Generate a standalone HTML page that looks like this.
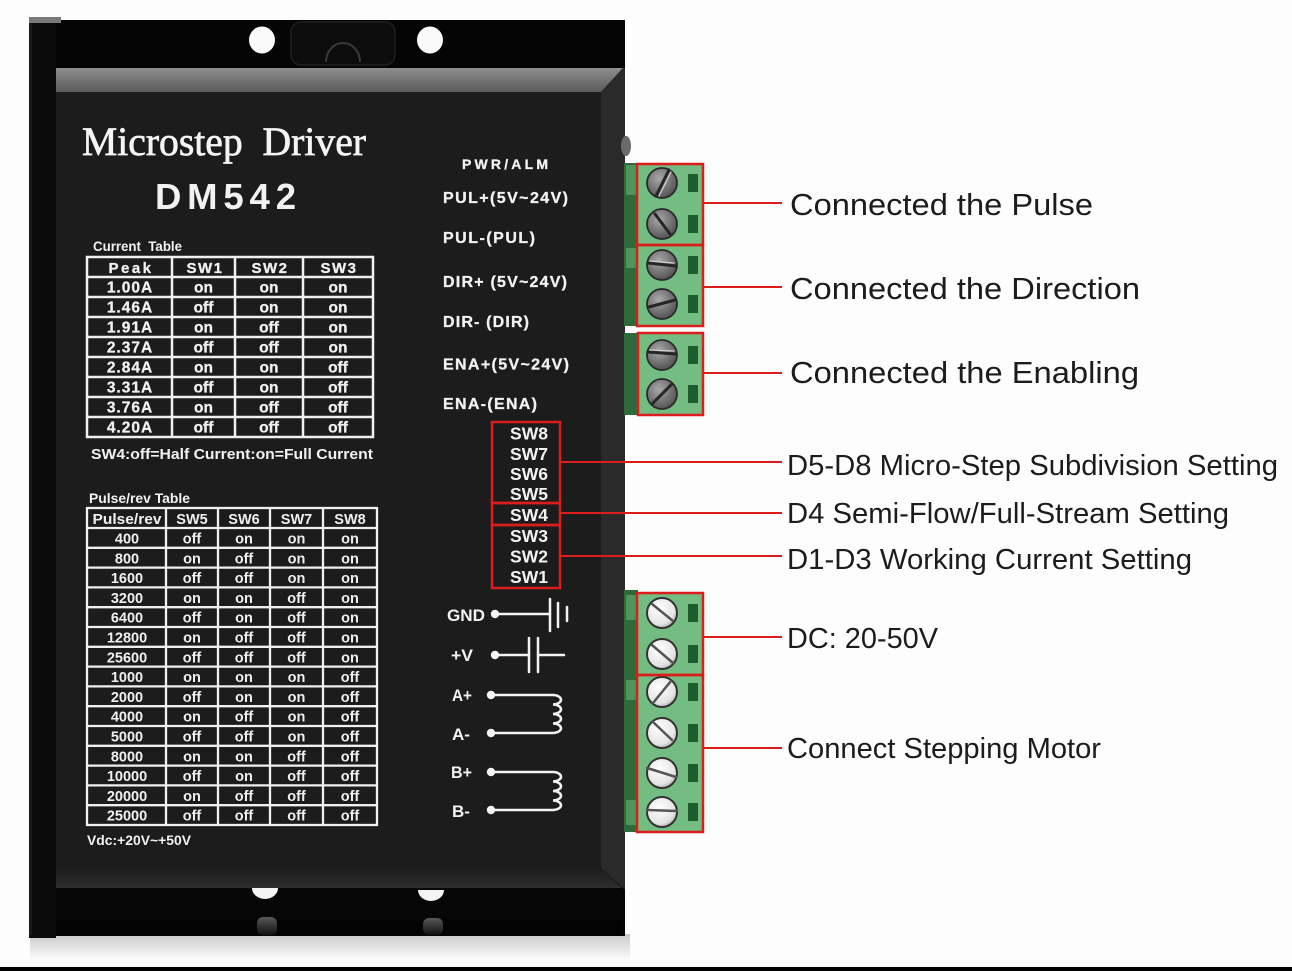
<!DOCTYPE html>
<html><head><meta charset="utf-8">
<style>
html,body{margin:0;padding:0;background:#fdfdfd;}
svg{display:block;}
.pl{font-family:"Liberation Sans",Arial,sans-serif;font-weight:bold;fill:#f2f2f2;}
.tb{font-family:"Liberation Sans",Arial,sans-serif;font-weight:bold;fill:#f0f0f0;text-anchor:middle;}
.lab{font-family:"Liberation Sans",Arial,sans-serif;fill:#1c1c1c;}
</style></head><body>
<svg width="1292" height="971" viewBox="0 0 1292 971" xmlns="http://www.w3.org/2000/svg">
<defs>
 <linearGradient id="bevTop" x1="0" y1="0" x2="0" y2="1">
  <stop offset="0" stop-color="#8e8e8e"/><stop offset="1" stop-color="#5a5a5a"/>
 </linearGradient>
 <linearGradient id="bevBot" x1="0" y1="0" x2="0" y2="1">
  <stop offset="0" stop-color="#1c1c1c"/><stop offset="1" stop-color="#2e2e2e"/>
 </linearGradient>
 <linearGradient id="shadow" x1="0" y1="0" x2="0" y2="1">
  <stop offset="0" stop-color="#c9c9c9"/><stop offset="1" stop-color="#fdfdfd"/>
 </linearGradient>
 <linearGradient id="refl" x1="0" y1="0" x2="0" y2="1">
  <stop offset="0" stop-color="#bdbdbd"/><stop offset="1" stop-color="#222"/>
 </linearGradient>
 <radialGradient id="sd" cx="0.4" cy="0.35" r="0.75">
  <stop offset="0" stop-color="#a9a9a9"/><stop offset="1" stop-color="#474747"/>
 </radialGradient>
 <radialGradient id="sl" cx="0.4" cy="0.35" r="0.75">
  <stop offset="0" stop-color="#ffffff"/><stop offset="0.7" stop-color="#e4e4e4"/><stop offset="1" stop-color="#9a9a9a"/>
 </radialGradient>
</defs>

<rect x="0" y="0" width="1292" height="971" fill="#fdfdfd"/>
<rect x="30" y="934" width="600" height="26" fill="url(#shadow)"/>
<rect x="0" y="967" width="1292" height="4" fill="#000"/>

<!-- body -->
<rect x="50" y="20" width="575" height="916" fill="#050505"/>
<rect x="291" y="22" width="104" height="43" rx="10" fill="#0c0c0c" stroke="#1e1e1e" stroke-width="1.5"/>
<path d="M326,62 A17,19 0 0 1 360,62" fill="none" stroke="#3a3a3a" stroke-width="2"/>
<ellipse cx="262" cy="40" rx="13" ry="13.5" fill="#fafafa"/>
<path d="M253,30 A13,13.5 0 0 0 253,50 A10,12 0 0 1 253,30 Z" fill="#222"/>
<ellipse cx="430" cy="40" rx="13" ry="13.5" fill="#fafafa"/>
<path d="M421,30 A13,13.5 0 0 0 421,50 A10,12 0 0 1 421,30 Z" fill="#333"/>

<polygon points="55,68 623,68 601,92 55,92" fill="url(#bevTop)"/>
<rect x="55" y="92" width="547" height="776" fill="#1c1c1c"/>
<polygon points="601,92 623,68 625,68 625,890 601,868" fill="#2a2a2a"/>
<polygon points="55,868 601,868 623,889 55,889" fill="url(#bevBot)"/>
<rect x="55" y="888" width="568" height="32" fill="#060606"/>
<rect x="55" y="920" width="567" height="15" fill="#030303"/>
<path d="M252,888 H278 A13,11 0 0 1 252,888 Z" fill="#f4f4f4"/>
<path d="M418,890 H444 A13,11 0 0 1 418,890 Z" fill="#f4f4f4"/>
<rect x="257" y="917" width="20" height="18" rx="6" fill="url(#refl)" opacity="0.45"/>
<rect x="423" y="918" width="20" height="17" rx="6" fill="url(#refl)" opacity="0.45"/>
<ellipse cx="626" cy="146" rx="5" ry="10" fill="#6a6a6a"/>

<rect x="29" y="17" width="27" height="921" fill="#0b0b0b"/>
<rect x="29" y="17" width="32" height="6" fill="#7a7a7a"/>
<rect x="29" y="23" width="3" height="912" fill="#1a1a1a"/>

<!-- title -->
<text x="82" y="155" font-family="'Liberation Serif','Times New Roman',serif" font-size="40" fill="#f4f4f4" stroke="#f4f4f4" stroke-width="0.7" textLength="284" lengthAdjust="spacingAndGlyphs">Microstep&#160; Driver</text>
<text x="155" y="209" class="pl" font-size="36.5" textLength="141" lengthAdjust="spacing" fill="#f6f6f6">DM542</text>

<!-- current table -->
<text x="93" y="251" class="pl" font-size="14" textLength="89" lengthAdjust="spacingAndGlyphs">Current&#160; Table</text>
<g stroke="#f0f0f0" stroke-width="2.5" fill="none">
 <rect x="87" y="257" width="286" height="180"/>
 <line x1="172" y1="257" x2="172" y2="437"/>
 <line x1="235" y1="257" x2="235" y2="437"/>
 <line x1="303" y1="257" x2="303" y2="437"/>
 <line x1="87" y1="277" x2="373" y2="277"/>
 <line x1="87" y1="297" x2="373" y2="297"/>
 <line x1="87" y1="317" x2="373" y2="317"/>
 <line x1="87" y1="337" x2="373" y2="337"/>
 <line x1="87" y1="357" x2="373" y2="357"/>
 <line x1="87" y1="377" x2="373" y2="377"/>
 <line x1="87" y1="397" x2="373" y2="397"/>
 <line x1="87" y1="417" x2="373" y2="417"/>
</g>
<g class="tb" font-size="15" stroke="#f0f0f0" stroke-width="0.3">
 <text x="131" y="273" letter-spacing="2.5">Peak</text>
 <text x="205" y="273" letter-spacing="1.5">SW1</text>
 <text x="270" y="273" letter-spacing="1.5">SW2</text>
 <text x="339" y="273" letter-spacing="1.5">SW3</text>
</g>
<g class="tb" font-size="15.5" stroke="#f0f0f0" stroke-width="0.3">
 <text x="130" y="292.5" letter-spacing="1">1.00A</text><text x="203.5" y="292.5">on</text><text x="269" y="292.5">on</text><text x="338" y="292.5">on</text>
 <text x="130" y="312.5" letter-spacing="1">1.46A</text><text x="203.5" y="312.5">off</text><text x="269" y="312.5">on</text><text x="338" y="312.5">on</text>
 <text x="130" y="332.5" letter-spacing="1">1.91A</text><text x="203.5" y="332.5">on</text><text x="269" y="332.5">off</text><text x="338" y="332.5">on</text>
 <text x="130" y="352.5" letter-spacing="1">2.37A</text><text x="203.5" y="352.5">off</text><text x="269" y="352.5">off</text><text x="338" y="352.5">on</text>
 <text x="130" y="372.5" letter-spacing="1">2.84A</text><text x="203.5" y="372.5">on</text><text x="269" y="372.5">on</text><text x="338" y="372.5">off</text>
 <text x="130" y="392.5" letter-spacing="1">3.31A</text><text x="203.5" y="392.5">off</text><text x="269" y="392.5">on</text><text x="338" y="392.5">off</text>
 <text x="130" y="412.5" letter-spacing="1">3.76A</text><text x="203.5" y="412.5">on</text><text x="269" y="412.5">off</text><text x="338" y="412.5">off</text>
 <text x="130" y="432.5" letter-spacing="1">4.20A</text><text x="203.5" y="432.5">off</text><text x="269" y="432.5">off</text><text x="338" y="432.5">off</text>
</g>
<text x="91" y="459" class="pl" font-size="14.5" textLength="282" lengthAdjust="spacingAndGlyphs">SW4:off=Half Current:on=Full Current</text>

<!-- pulse table -->
<text x="89" y="503" class="pl" font-size="14" textLength="101" lengthAdjust="spacingAndGlyphs">Pulse/rev Table</text>
<g stroke="#f0f0f0" stroke-width="2.3" fill="none">
 <rect x="87" y="508" width="290" height="317"/>
 <line x1="166" y1="508" x2="166" y2="825"/>
 <line x1="218" y1="508" x2="218" y2="825"/>
 <line x1="270" y1="508" x2="270" y2="825"/>
 <line x1="323" y1="508" x2="323" y2="825"/>
 <line x1="87" y1="528" x2="377" y2="528"/>
 <line x1="87" y1="547.8" x2="377" y2="547.8"/>
 <line x1="87" y1="567.6" x2="377" y2="567.6"/>
 <line x1="87" y1="587.4" x2="377" y2="587.4"/>
 <line x1="87" y1="607.2" x2="377" y2="607.2"/>
 <line x1="87" y1="627" x2="377" y2="627"/>
 <line x1="87" y1="646.8" x2="377" y2="646.8"/>
 <line x1="87" y1="666.6" x2="377" y2="666.6"/>
 <line x1="87" y1="686.4" x2="377" y2="686.4"/>
 <line x1="87" y1="706.2" x2="377" y2="706.2"/>
 <line x1="87" y1="726" x2="377" y2="726"/>
 <line x1="87" y1="745.8" x2="377" y2="745.8"/>
 <line x1="87" y1="765.6" x2="377" y2="765.6"/>
 <line x1="87" y1="785.4" x2="377" y2="785.4"/>
 <line x1="87" y1="805.2" x2="377" y2="805.2"/>
</g>
<g class="tb" font-size="14.5">
 <text x="127" y="524" textLength="69" lengthAdjust="spacingAndGlyphs">Pulse/rev</text>
 <text x="192" y="524">SW5</text><text x="244" y="524">SW6</text><text x="296.5" y="524">SW7</text><text x="350" y="524">SW8</text>
</g>
<g class="tb" font-size="14.5">
 <text x="127" y="543.5">400</text><text x="192" y="543.5">off</text><text x="244" y="543.5">on</text><text x="296.5" y="543.5">on</text><text x="350" y="543.5">on</text>
 <text x="127" y="563.3">800</text><text x="192" y="563.3">on</text><text x="244" y="563.3">off</text><text x="296.5" y="563.3">on</text><text x="350" y="563.3">on</text>
 <text x="127" y="583.1">1600</text><text x="192" y="583.1">off</text><text x="244" y="583.1">off</text><text x="296.5" y="583.1">on</text><text x="350" y="583.1">on</text>
 <text x="127" y="602.9">3200</text><text x="192" y="602.9">on</text><text x="244" y="602.9">on</text><text x="296.5" y="602.9">off</text><text x="350" y="602.9">on</text>
 <text x="127" y="622.7">6400</text><text x="192" y="622.7">off</text><text x="244" y="622.7">on</text><text x="296.5" y="622.7">off</text><text x="350" y="622.7">on</text>
 <text x="127" y="642.5">12800</text><text x="192" y="642.5">on</text><text x="244" y="642.5">off</text><text x="296.5" y="642.5">off</text><text x="350" y="642.5">on</text>
 <text x="127" y="662.3">25600</text><text x="192" y="662.3">off</text><text x="244" y="662.3">off</text><text x="296.5" y="662.3">off</text><text x="350" y="662.3">on</text>
 <text x="127" y="682.1">1000</text><text x="192" y="682.1">on</text><text x="244" y="682.1">on</text><text x="296.5" y="682.1">on</text><text x="350" y="682.1">off</text>
 <text x="127" y="701.9">2000</text><text x="192" y="701.9">off</text><text x="244" y="701.9">on</text><text x="296.5" y="701.9">on</text><text x="350" y="701.9">off</text>
 <text x="127" y="721.7">4000</text><text x="192" y="721.7">on</text><text x="244" y="721.7">off</text><text x="296.5" y="721.7">on</text><text x="350" y="721.7">off</text>
 <text x="127" y="741.5">5000</text><text x="192" y="741.5">off</text><text x="244" y="741.5">off</text><text x="296.5" y="741.5">on</text><text x="350" y="741.5">off</text>
 <text x="127" y="761.3">8000</text><text x="192" y="761.3">on</text><text x="244" y="761.3">on</text><text x="296.5" y="761.3">off</text><text x="350" y="761.3">off</text>
 <text x="127" y="781.1">10000</text><text x="192" y="781.1">off</text><text x="244" y="781.1">on</text><text x="296.5" y="781.1">off</text><text x="350" y="781.1">off</text>
 <text x="127" y="800.9">20000</text><text x="192" y="800.9">on</text><text x="244" y="800.9">off</text><text x="296.5" y="800.9">off</text><text x="350" y="800.9">off</text>
 <text x="127" y="820.7">25000</text><text x="192" y="820.7">off</text><text x="244" y="820.7">off</text><text x="296.5" y="820.7">off</text><text x="350" y="820.7">off</text>
</g>
<text x="87" y="845" class="pl" font-size="14" textLength="104" lengthAdjust="spacingAndGlyphs">Vdc:+20V~+50V</text>

<!-- terminal labels -->
<g class="pl" stroke="#f2f2f2" stroke-width="0.3">
 <text x="462" y="169" font-size="14" textLength="86" lengthAdjust="spacing">PWR/ALM</text>
 <text x="443" y="203" font-size="16" textLength="125" lengthAdjust="spacing">PUL+(5V~24V)</text>
 <text x="443" y="243" font-size="16" textLength="92" lengthAdjust="spacing">PUL-(PUL)</text>
 <text x="443" y="287" font-size="16" textLength="124" lengthAdjust="spacing">DIR+ (5V~24V)</text>
 <text x="443" y="327" font-size="16" textLength="86" lengthAdjust="spacing">DIR- (DIR)</text>
 <text x="443" y="369.5" font-size="16" textLength="126" lengthAdjust="spacing">ENA+(5V~24V)</text>
 <text x="443" y="409" font-size="16" textLength="94" lengthAdjust="spacing">ENA-(ENA)</text>
</g>

<!-- SW labels -->
<g class="pl" font-size="17.5">
 <text x="510" y="439.5" textLength="38" lengthAdjust="spacingAndGlyphs">SW8</text>
 <text x="510" y="460" textLength="38" lengthAdjust="spacingAndGlyphs">SW7</text>
 <text x="510" y="480" textLength="38" lengthAdjust="spacingAndGlyphs">SW6</text>
 <text x="510" y="500" textLength="38" lengthAdjust="spacingAndGlyphs">SW5</text>
 <text x="510" y="521" textLength="38" lengthAdjust="spacingAndGlyphs">SW4</text>
 <text x="510" y="542" textLength="38" lengthAdjust="spacingAndGlyphs">SW3</text>
 <text x="510" y="562.5" textLength="38" lengthAdjust="spacingAndGlyphs">SW2</text>
 <text x="510" y="583" textLength="38" lengthAdjust="spacingAndGlyphs">SW1</text>
</g>

<!-- power / motor symbols -->
<g class="pl" font-size="17">
 <text x="447" y="621" textLength="38" lengthAdjust="spacingAndGlyphs">GND</text>
 <text x="451" y="661" textLength="22" lengthAdjust="spacingAndGlyphs">+V</text>
 <text x="452" y="701" textLength="20" lengthAdjust="spacingAndGlyphs">A+</text>
 <text x="452" y="740" textLength="18" lengthAdjust="spacingAndGlyphs">A-</text>
 <text x="451" y="778" textLength="21" lengthAdjust="spacingAndGlyphs">B+</text>
 <text x="452" y="817" textLength="18" lengthAdjust="spacingAndGlyphs">B-</text>
</g>
<g stroke="#f2f2f2" stroke-width="2.5" fill="none" stroke-linecap="round">
 <line x1="495" y1="614" x2="550" y2="614"/>
 <line x1="550" y1="599" x2="550" y2="631"/>
 <line x1="558" y1="603" x2="558" y2="627"/>
 <line x1="567" y1="607" x2="567" y2="621"/>
 <line x1="495" y1="655" x2="529" y2="655"/>
 <line x1="529" y1="638" x2="529" y2="672"/>
 <line x1="538" y1="638" x2="538" y2="672"/>
 <line x1="538" y1="655" x2="564" y2="655"/>
 <path d="M491,695 H553 A8,4.75 0 0 1 553,704.5 A8,4.75 0 0 1 553,714 A8,4.75 0 0 1 553,723.5 A8,4.75 0 0 1 553,733 H491"/>
 <path d="M491,772 H553 A8,4.75 0 0 1 553,781.5 A8,4.75 0 0 1 553,791 A8,4.75 0 0 1 553,800.5 A8,4.75 0 0 1 553,810 H491"/>
</g>
<g fill="#f4f4f4">
 <circle cx="495" cy="614" r="4.2"/><circle cx="495" cy="655" r="4.2"/>
 <circle cx="491" cy="695" r="4.2"/><circle cx="491" cy="733" r="4.2"/>
 <circle cx="491" cy="772" r="4.2"/><circle cx="491" cy="810" r="4.2"/>
</g>

<!-- connector sides -->
<g fill="#2f6a3a">
 <rect x="624" y="163" width="14" height="163"/>
 <rect x="624" y="333" width="15" height="82"/>
 <rect x="624" y="590" width="14" height="242"/>
</g>
<g fill="#56a064" opacity="0.8">
 <rect x="626" y="165" width="10" height="30"/>
 <rect x="626" y="248" width="10" height="20"/>
 <rect x="626" y="595" width="10" height="25"/>
 <rect x="626" y="680" width="10" height="20"/>
 <rect x="626" y="800" width="10" height="25"/>
</g>

<!-- terminal blocks -->
<g fill="#74bd82">
 <rect x="637" y="164" width="66" height="162"/>
 <rect x="638" y="333" width="65" height="82"/>
 <rect x="637" y="593" width="66" height="239"/>
</g>
<g fill="#1f5c2d">
 <rect x="688" y="174" width="10" height="18"/>
 <rect x="688" y="215" width="10" height="18"/>
 <rect x="688" y="256" width="10" height="18"/>
 <rect x="688" y="295" width="10" height="18"/>
 <rect x="688" y="346" width="10" height="18"/>
 <rect x="688" y="385" width="10" height="18"/>
 <rect x="688" y="604" width="10" height="18"/>
 <rect x="688" y="645" width="10" height="18"/>
 <rect x="688" y="683" width="10" height="18"/>
 <rect x="688" y="724" width="10" height="18"/>
 <rect x="688" y="764" width="10" height="18"/>
 <rect x="688" y="803" width="10" height="18"/>
</g>
<g fill="url(#sd)" stroke="#2a2a2a" stroke-width="1.8">
 <circle cx="662" cy="183" r="15"/>
 <circle cx="662" cy="224" r="15"/>
 <circle cx="662" cy="265" r="15"/>
 <circle cx="662" cy="304" r="15"/>
 <circle cx="662" cy="355" r="15"/>
 <circle cx="662" cy="394" r="15"/>
</g>
<g stroke="#262626" stroke-width="3" stroke-linecap="round">
 <line x1="669" y1="170" x2="656" y2="196"/>
 <line x1="655" y1="214" x2="670" y2="234"/>
 <line x1="648" y1="263" x2="676" y2="266"/>
 <line x1="649" y1="307" x2="675" y2="300"/>
 <line x1="648" y1="352" x2="676" y2="354"/>
 <line x1="652" y1="404" x2="672" y2="384"/>
</g>
<g stroke="#d0d0d0" stroke-width="1.2" stroke-linecap="round">
 <line x1="671" y1="172" x2="659" y2="196"/>
 <line x1="650" y1="261" x2="674" y2="263"/>
 <line x1="650" y1="350" x2="674" y2="351"/>
</g>
<g fill="url(#sl)" stroke="#333" stroke-width="2">
 <circle cx="662" cy="613" r="15"/>
 <circle cx="662" cy="654" r="15"/>
 <circle cx="662" cy="692" r="15"/>
 <circle cx="662" cy="733" r="15"/>
 <circle cx="662" cy="773" r="15"/>
 <circle cx="662" cy="812" r="15"/>
</g>
<g stroke="#555" stroke-width="2.5" stroke-linecap="round">
 <line x1="652" y1="604" x2="673" y2="621"/>
 <line x1="652" y1="645" x2="673" y2="663"/>
 <line x1="653" y1="703" x2="671" y2="681"/>
 <line x1="653" y1="722" x2="672" y2="740"/>
 <line x1="647" y1="768" x2="676" y2="777"/>
 <line x1="647" y1="810" x2="677" y2="811"/>
</g>

<!-- red boxes -->
<g fill="none" stroke="#dd1c1c" stroke-width="2.5">
 <rect x="637" y="164" width="66" height="81"/>
 <rect x="637" y="245" width="66" height="81"/>
 <rect x="638" y="333" width="65" height="82"/>
 <rect x="637" y="593" width="66" height="82"/>
 <rect x="637" y="675" width="66" height="157"/>
 <rect x="492" y="422" width="68" height="81"/>
 <rect x="492" y="503" width="68" height="22"/>
 <rect x="492" y="525" width="68" height="63"/>
</g>
<g stroke="#dd1c1c" stroke-width="2">
 <line x1="703" y1="203" x2="782" y2="203"/>
 <line x1="703" y1="287" x2="782" y2="287"/>
 <line x1="703" y1="373" x2="782" y2="373"/>
 <line x1="560" y1="462" x2="782" y2="462"/>
 <line x1="560" y1="513" x2="782" y2="513"/>
 <line x1="560" y1="556" x2="782" y2="556"/>
 <line x1="703" y1="637" x2="782" y2="637"/>
 <line x1="703" y1="748" x2="782" y2="748"/>
</g>

<!-- right labels -->
<g class="lab">
 <text x="790" y="215" font-size="31" textLength="303" lengthAdjust="spacingAndGlyphs">Connected the Pulse</text>
 <text x="790" y="299" font-size="31" textLength="350" lengthAdjust="spacingAndGlyphs">Connected the Direction</text>
 <text x="790" y="383" font-size="31" textLength="349" lengthAdjust="spacingAndGlyphs">Connected the Enabling</text>
 <text x="787" y="475" font-size="28.5" textLength="491" lengthAdjust="spacingAndGlyphs">D5-D8 Micro-Step Subdivision Setting</text>
 <text x="787" y="523" font-size="28.5" textLength="442" lengthAdjust="spacingAndGlyphs">D4 Semi-Flow/Full-Stream Setting</text>
 <text x="787" y="569" font-size="28.5" textLength="405" lengthAdjust="spacingAndGlyphs">D1-D3 Working Current Setting</text>
 <text x="787" y="648" font-size="28.5" textLength="151" lengthAdjust="spacingAndGlyphs">DC: 20-50V</text>
 <text x="787" y="758" font-size="28.5" textLength="314" lengthAdjust="spacingAndGlyphs">Connect Stepping Motor</text>
</g>
</svg>
</body></html>
